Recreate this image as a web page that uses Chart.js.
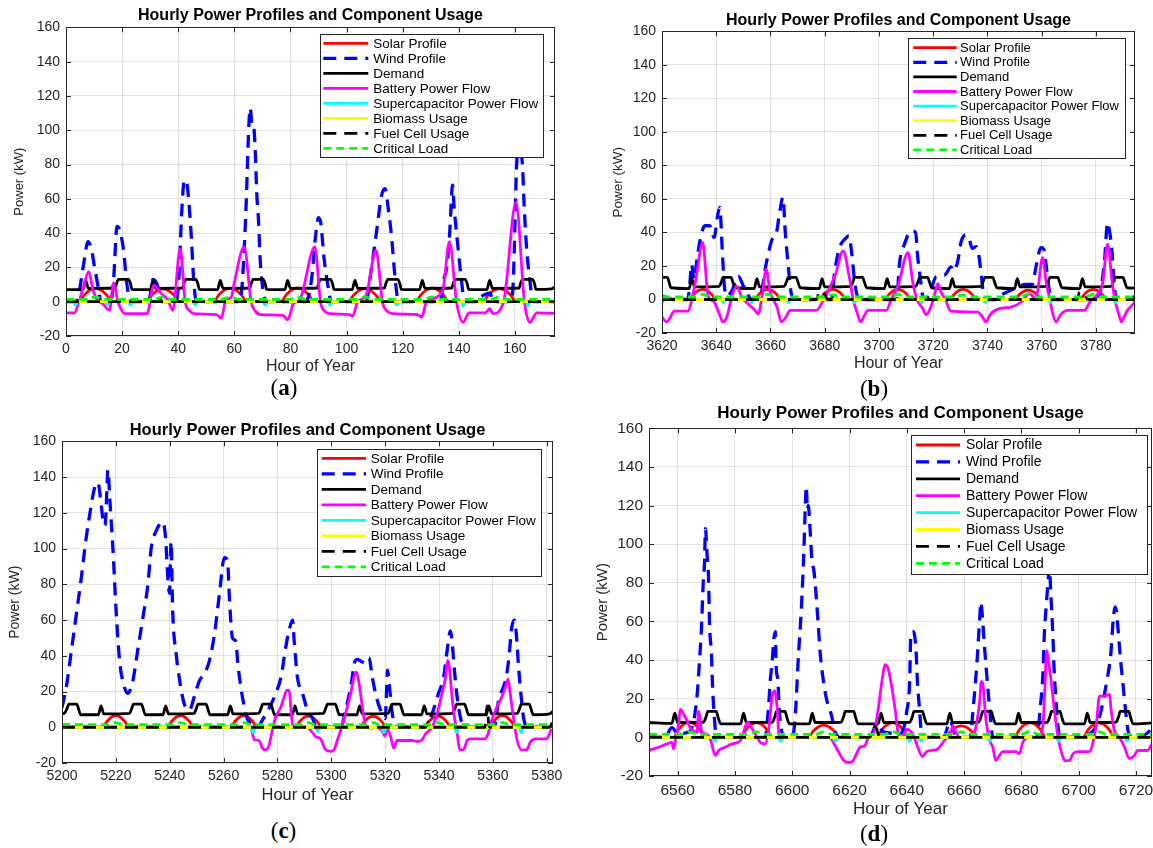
<!DOCTYPE html>
<html>
<head>
<meta charset="utf-8">
<script src="https://cdn.jsdelivr.net/npm/chart.js@4.4.1/dist/chart.umd.min.js"></script>
<style>
html, body { margin:0; padding:0; background:#fff; }
#page { position:relative; width:1153px; height:848px; overflow:hidden; font-family:'Liberation Sans', Arial, sans-serif; }
canvas { position:absolute; }
.ttl { position:absolute; transform:translate(-50%,-50%); font-weight:bold; white-space:nowrap; color:#000; line-height:1; }
.lbl { position:absolute; transform:translate(-50%,-50%); font-family:'Liberation Serif','Times New Roman',serif; font-size:23px; white-space:nowrap; line-height:1; color:#000; }
</style>
</head>
<body>
<div id="page">
<canvas id="pa"></canvas>
<canvas id="pb"></canvas>
<canvas id="pc"></canvas>
<canvas id="pd"></canvas>
</div>
<script>
// legend entries, same order in all four panels
const legendLabels = ['Solar Profile', 'Wind Profile', 'Demand', 'Battery Power Flow',
  'Supercapacitor Power Flow', 'Biomass Usage', 'Fuel Cell Usage', 'Critical Load'];

// ---------- (a) hours 0 - 174 ----------
const solarA = [[0,0],[4.5,0],[6.5,3.9],[8.5,6.8],[10.5,7.8],[12.5,6.8],[14.5,3.9],[16.5,0],
  [28.5,0],[30.5,3.8],[32.5,6.5],[34.5,7.5],[36.5,6.5],[38.5,3.8],[40.5,0],
  [52.5,0],[54.5,4],[56.5,6.9],[58.5,7.9],[60.5,6.9],[62.5,4],[64.5,0],
  [76.5,0],[78.5,4],[80.5,7],[82.5,8.1],[84.5,7],[86.5,4],[88.5,0],
  [100.5,0],[102.5,3.8],[104.5,6.6],[106.5,7.6],[108.5,6.6],[110.5,3.8],[112.5,0],
  [124.5,0],[126.5,4],[128.5,6.9],[130.5,8],[132.5,6.9],[134.5,4],[136.5,0],
  [148.5,0],[150.5,3.9],[152.5,6.7],[154.5,7.7],[156.5,6.7],[158.5,3.9],[160.5,0],[174.3,0]];
const windA = [[0,0],[3,0],[4.2,2],[6.3,22],[7.8,35],[9,31],[10.2,20],[11.3,10],[12.5,0],
  [16,0],[17,14],[18.2,44],[19.1,42],[20.6,29],[21.5,13],[23,0],
  [29.5,0],[31,13],[32.5,10],[34,0],
  [39,0],[40.1,10],[41.4,57],[42.2,71],[43.1,69],[43.7,60],[44.7,37],[45.5,13],[46.5,0],
  [61.5,0],[62.7,8],[63.9,44],[65.7,113],[66.3,103],[66.8,103],[67.4,90],[68,63],[68.6,48],[69.2,25],[70.4,5],[71.5,0],
  [85.5,0],[87.6,14],[88.8,36],[90,49],[90.8,46],[92,25],[93.5,8],[94.5,0],
  [107,0],[108.4,14],[110.7,41],[112.5,62],[113.7,66],[114.9,54],[116.1,37],[117.3,14],[118.5,0],
  [133.5,0],[134.5,12],[135.7,20],[136.8,41],[137.8,68],[138.3,56],[139.4,37],[141,12],[142,0],
  [146,0],[148,3],[151,5],[152.5,0],
  [158.5,0],[159.4,11],[160.8,84],[161.6,88],[162.7,80],[163.2,60],[164.1,33],[165.3,13],[166.5,0],[174.3,0]];
const demandA = [[0,7],[6,7],[7,12.5],[8,7.8],[17.5,8],[18,10.5],[18.7,13],[22.3,13],[23,10.5],[23.5,7.2],
  [30,7],[31,12.5],[32,7.8],[41.5,8],[42,10.5],[42.7,13],[46.3,13],[47,10.5],[47.5,7.2],
  [54,7],[55,12.5],[56,7.8],[65.5,8],[66,10.5],[66.7,13],[70.3,13],[71,10.5],[71.5,7.2],
  [78,7],[79,12.5],[80,7.8],[89.5,8],[90,10.5],[90.7,13],[94.3,13],[95,10.5],[95.5,7.2],
  [102,7],[103,12.5],[104,7.8],[113.5,8],[114,10.5],[114.7,13],[118.3,13],[119,10.5],[119.5,7.2],
  [126,7],[127,12.5],[128,7.8],[137.5,8],[138,10.5],[138.7,13],[142.3,13],[143,10.5],[143.5,7.2],
  [150,7],[151,12.5],[152,7.8],[161.5,8],[162,10.5],[162.7,13],[166.3,13],[167,10.5],[167.5,7.2],
  [173,7.5],[174.3,8.6]];
const batteryA = [[0,-6.5],[3,-6.5],[4.6,0],[6.1,8],[8.1,17.5],[9.6,7],[11.1,1],[13,-1],[15.5,-5],[17,11],[18.5,0],
  [20,-5.5],[21,-7],[28.9,-7],[31.3,9.5],[33.8,5],[36.3,1],[38.1,-5],[40.7,31],[42.5,0],[44.2,-5.5],[45.7,-7],
  [53.6,-7.5],[55.4,-9.7],[56.8,0],[59,3],[60,11],[63.5,32],[66,0],[67.5,-5.5],[69.4,-7.5],[77.3,-8],[79.1,-10.5],
  [81.1,-1],[83.3,1],[88.7,32],[90.7,0],[92.2,-5.5],[94.2,-7],[101.1,-7.5],[102.1,-8.5],[104,0],[107,4],[110.5,30],
  [112.8,0],[114.5,-5.5],[116.4,-7],[125.3,-7.5],[126.8,-9],[128.5,0],[134.2,6],[136.7,35],[139.2,0],[141.6,-12],
  [143.6,-6.5],[149.5,-6.5],[151,-4],[152.2,-7],[156,0],[160.4,58],[163.4,0],[165.4,-12],[167.8,-6.5],[174.3,-6.8]];
const supercapA = [[0,0],[2.5,0],[3.4,-2],[4.3,0],[13.8,0],[14.7,-2],[15.6,0],[22.1,0],[23,-2],[23.9,0],
  [45.2,0],[46.1,-2],[47,0],[70.1,0],[71,-2],[71.9,0],[93.2,0],[94.1,-2],[95,0],[117,0],[117.9,-2],[118.8,0],
  [140.7,0],[141.6,-2.5],[142.5,0],[163.8,0],[164.7,-2.5],[165.6,0],[174.3,0]];
const biomassA = [[0,0],[174.3,0]];
const fuelA = [[0,0],[174.3,0]];
const criticalA = [[0,1.4],[7.5,1.4],[10.5,2.8],[13.5,1.4],[31.5,1.4],[34.5,2.8],[37.5,1.4],[55.5,1.4],[58.5,2.8],[61.5,1.4],
  [79.5,1.4],[82.5,2.8],[85.5,1.4],[103.5,1.4],[106.5,2.8],[109.5,1.4],[127.5,1.4],[130.5,2.8],[133.5,1.4],
  [151.5,1.4],[154.5,2.8],[157.5,1.4],[174.3,1.4]];

// ---------- (b) hours 3620 - 3794 ----------
const solarB = [[3620,0],[3630,0],[3631.7,3],[3633.3,5.2],[3635,6],[3636.7,5.2],[3638.3,3],[3640,0],
  [3654,0],[3655.7,3],[3657.3,5.2],[3659,6],[3660.7,5.2],[3662.3,3],[3664,0],
  [3678,0],[3679.7,3],[3681.3,5.2],[3683,6],[3684.7,5.2],[3686.3,3],[3688,0],
  [3702,0],[3703.7,3],[3705.3,5.2],[3707,6],[3708.7,5.2],[3710.3,3],[3712,0],
  [3726,0],[3727.7,3],[3729.3,5.2],[3731,6],[3732.7,5.2],[3734.3,3],[3736,0],
  [3750,0],[3751.7,2.8],[3753.3,4.8],[3755,5.5],[3756.7,4.8],[3758.3,2.8],[3760,0],
  [3774,0],[3775.7,3],[3777.3,5.2],[3779,6],[3780.7,5.2],[3782.3,3],[3784,0],[3794.4,0]];
const windB = [[3620,2],[3622,1],[3624,0],[3629.5,0],[3630.3,10],[3630.9,21],[3631.8,12],[3633,25],[3634,35],
  [3635.8,44],[3637.6,44],[3639.2,37],[3640.5,50],[3641.3,55],[3642.2,30],[3643,8],[3644,2],[3646,6],[3648.1,14],
  [3650,8],[3651.3,4],[3653,0],[3656,1],[3658.5,22],[3660.4,35],[3662.2,40],[3663.4,52],[3664.6,61],[3665.5,39],
  [3666.5,21],[3667.5,5],[3668.5,0],[3682.5,0],[3683.7,17],[3685.5,31],[3687.4,36],[3688.9,38],[3690,27],[3691,11],
  [3692,2],[3693,0],[3706.5,0],[3707.6,22],[3709.4,33],[3711.9,41],[3713.5,40],[3714.3,25],[3715.3,12],[3716,3],
  [3717,0],[3719,5],[3721,13.5],[3724.2,14.5],[3726.6,19.5],[3727.5,17],[3729,22.5],[3730.3,34.5],[3731.9,38.5],
  [3733.2,36.5],[3734.4,30.5],[3735.8,31.5],[3736.8,26.5],[3737.7,15],[3738.6,3],[3740,0],[3743,0],[3744.4,2],
  [3748,5],[3751.8,8],[3754,9],[3756.5,9],[3757.9,19.5],[3759.7,31],[3760.8,30],[3761.6,21],[3762.6,7.5],[3763.5,1],
  [3765,0],[3780,0],[3781.2,2],[3783.1,21.7],[3784.3,45.8],[3785,41],[3786,27],[3786.8,7.5],[3788,0],[3794.4,1.5]];
const demandB = [[3620,13.2],[3622,13.2],[3622.5,11],[3623.3,7],[3630,6.5],[3631,12.5],[3632,7.5],
  [3641,7.8],[3642,11],[3642.5,13.2],[3645.5,13.2],[3646,11],[3647,7],[3654,6.5],[3655,12.5],[3656,7.5],
  [3665,7.8],[3666,11],[3666.5,13.2],[3669.5,13.2],[3670,11],[3671,7],[3678,6.5],[3679,12.5],[3680,7.5],
  [3689.5,7.8],[3690.5,11],[3691,13.2],[3694,13.2],[3694.5,11],[3695.5,7],[3702,6.5],[3703,12.5],[3704,7.5],
  [3713.5,7.8],[3714.5,11],[3715,13.2],[3718,13.2],[3718.5,11],[3719.5,7],[3726,6.5],[3727,12.5],[3728,7.5],
  [3737.5,7.8],[3738.5,11],[3739,13.2],[3742,13.2],[3742.5,11],[3743.5,7],[3750,6.5],[3751,12.5],[3752,7.5],
  [3761.5,7.8],[3762.5,11],[3763,13.2],[3766,13.2],[3766.5,11],[3767.5,7],[3774,6.5],[3775,12.5],[3776,7.5],
  [3785.5,7.8],[3786.5,11],[3787,13.2],[3790,13.2],[3790.5,11],[3791.5,7],[3794.4,6.8]];
const batteryB = [[3620,-10.5],[3621.7,-13.4],[3623,-11],[3624.5,-7],[3629.7,-7],[3631,0],[3632.5,12],[3635,34],
  [3637,2],[3639,-1],[3641,-8],[3642.5,-13.4],[3644,-10],[3645.5,0],[3647.5,8],[3649.5,1],[3652,-3],[3654,-6],
  [3655.5,-8.5],[3657,3],[3658.4,18],[3659.8,5],[3661,0],[3662.5,-5],[3664,-13.4],[3665.5,-11],[3667.3,-6.5],
  [3677,-6.5],[3679,-2],[3681,4],[3684,15],[3686.8,29],[3689,14],[3690.5,0],[3692,-8],[3693.2,-13.4],[3694.5,-10],
  [3696,-6.5],[3702.7,-6.5],[3704.5,0],[3707,8],[3710.7,28],[3712.5,10],[3714,0],[3716,-5],[3717.4,-9],[3719,-5],
  [3720.5,3],[3721.7,9.5],[3723,4],[3724.5,0],[3726.5,-7],[3736.5,-7.5],[3738,-10],[3739.5,-13.4],[3741,-9],
  [3744.4,-5.5],[3748.8,-4.5],[3752.5,-1.5],[3755.5,3.5],[3757.5,1],[3758.5,5],[3760.3,25],[3761.7,10],[3763,0],
  [3764,-8],[3765.3,-13.4],[3767,-9],[3769.6,-6.5],[3775.7,-6.5],[3778,-1],[3781,4],[3782.5,10],[3784.3,33],
  [3786,10],[3787,0],[3788.3,-8],[3789.4,-13.4],[3790.5,-10],[3791.6,-6.5],[3793,-4],[3794.4,-1.5]];
const supercapB = [[3620,-2],[3621,0],[3641.7,0],[3642.6,-2],[3643.5,0],[3652.1,0],[3653,-2],[3653.9,0],
  [3665.7,0],[3666.6,-2],[3667.5,0],[3690.1,0],[3691,-2],[3691.9,0],[3714.9,0],[3715.8,-2],[3716.7,0],
  [3738.3,0],[3739.2,-2],[3740.1,0],[3762.3,0],[3763.2,-2],[3764.1,0],[3786.3,0],[3787.2,-2],[3788.1,0],[3794.4,0]];
const biomassB = [[3620,0],[3794.4,0]];
const fuelB = [[3620,0],[3677,0],[3678,5],[3680,3],[3681,0],[3773,0],[3774,4.5],[3776,2.5],[3777,0],[3794.4,0]];
const criticalB = [[3620,1.5],[3632,1.5],[3635,3],[3638,1.5],[3656,1.5],[3659,3],[3662,1.5],[3680,1.5],[3683,2.8],
  [3686,1.5],[3704,1.5],[3707,3],[3710,1.5],[3728,1.5],[3731,2.8],[3734,1.5],[3752,1.5],[3755,3.2],[3758,1.5],
  [3776,1.5],[3779,3],[3782,1.5],[3794.4,1.5]];

// ---------- (c) hours 5200 - 5382 ----------
const solarC = [[5200,0],[5215,0],[5216.7,3.2],[5218.3,5.6],[5220,6.5],[5221.7,5.6],[5223.3,3.2],[5225,0],
  [5239,0],[5240.7,3.2],[5242.3,5.6],[5244,6.5],[5245.7,5.6],[5247.3,3.2],[5249,0],
  [5262.5,0],[5264.2,3.2],[5265.8,5.6],[5267.5,6.5],[5269.2,5.6],[5270.8,3.2],[5272.5,0],
  [5286.5,0],[5288.2,3.1],[5289.8,5.4],[5291.5,6.3],[5293.2,5.4],[5294.8,3.1],[5296.5,0],
  [5310.5,0],[5312.2,3],[5313.8,5.3],[5315.5,6.1],[5317.2,5.3],[5318.8,3],[5320.5,0],
  [5334.5,0],[5336.2,3.1],[5337.8,5.4],[5339.5,6.3],[5341.2,5.4],[5342.8,3.1],[5344.5,0],
  [5358.5,0],[5360.2,3.2],[5361.8,5.6],[5363.5,6.5],[5365.2,5.6],[5366.8,3.2],[5368.5,0],[5382.3,0]];
const windC = [[5200,11],[5201.6,22.5],[5203.5,43],[5205.3,63],[5207.2,84],[5208.8,104],[5210.5,121],[5212.1,134],
  [5213.3,137],[5214.6,124],[5215.4,114],[5216,113],[5216.7,134],[5217,144],[5217.9,124],[5218.9,100],[5220.1,65],
  [5221.4,37],[5222.9,24],[5224.4,19],[5226.3,26],[5228.1,43],[5230,61],[5231.9,80],[5233.1,100],[5235,110],
  [5237.4,115],[5238.4,107],[5239.3,84],[5239.9,75],[5240.5,104],[5241.1,65],[5242.4,41],[5243.6,27],[5245.4,13],
  [5247.3,9.6],[5249.1,17],[5251,26],[5252.9,30],[5254.7,37],[5256.6,52],[5258.4,74],[5260.3,95],[5261.5,93],
  [5262.1,74],[5263.3,50],[5264.6,48],[5265.2,37],[5266.4,22.5],[5267.7,11.4],[5269,4],[5270.7,2],[5272.5,0],
  [5274.4,4],[5277,11],[5279.4,19],[5281.3,28],[5283.1,45],[5284.3,54],[5285.6,60],[5286.2,48.5],[5287.4,28],
  [5289.3,19],[5291.1,9.6],[5293,5],[5294.5,0],[5303.5,0],[5305.3,9.6],[5307.2,22.5],[5308.8,37],[5309.6,38],
  [5311,37],[5312.5,36],[5314,39],[5315.2,28],[5316.7,17],[5318.3,9.6],[5320,5],[5320.9,32],[5321.6,22.5],
  [5322.7,7],[5324.2,0.5],[5335,0],[5337.4,7.5],[5339.8,19],[5341.7,28],[5343,43],[5344.2,54],[5344.7,50],
  [5345.7,32],[5346.7,17],[5348,5],[5349.5,0],[5360.5,0],[5362.1,15],[5364.6,26],[5365.8,37],[5367,56],[5368,60],
  [5368.9,48],[5369.5,34],[5370.5,17],[5371.4,5],[5373,0],[5382.3,0]];
const demandC = [[5200,7.5],[5201,8],[5202,11],[5202.5,13],[5205.5,13],[5206,11],[5207,7],[5213.5,7],[5214.5,12],[5215.5,7.5],
  [5225,7.8],[5226,11],[5226.5,13],[5229.5,13],[5230,11],[5231,7],[5237.5,7],[5238.5,12],[5239.5,7.5],
  [5249,7.8],[5250,11],[5250.5,13],[5253.5,13],[5254,11],[5255,7],[5261.5,7],[5262.5,12],[5263.5,7.5],
  [5273,7.8],[5274,11],[5274.5,13],[5277.5,13],[5278,11],[5279,7],[5285.5,7],[5286.5,12],[5287.5,7.5],
  [5297,7.8],[5298,11],[5298.5,13],[5301.5,13],[5302,11],[5303,7],[5309.5,7],[5310.5,12],[5311.5,7.5],
  [5321,7.8],[5322,11],[5322.5,13],[5325.5,13],[5326,11],[5327,7],[5333.5,7],[5334.5,12],[5335.5,7.5],
  [5345,7.8],[5346,11],[5346.5,13],[5349.5,13],[5350,11],[5351,7],[5357.5,7],[5358.5,12],[5359.5,7.5],
  [5369,7.8],[5370,11],[5370.5,13],[5373.5,13],[5374,11],[5375,7],[5381,7.5],[5382.3,9]];
const batteryC = [[5200,0],[5270,0],[5271.4,-7],[5273.2,-7.4],[5274.4,-11.7],[5275.7,-12.6],[5276.9,-10],[5278.1,-1.5],
  [5279.4,5.9],[5281.3,11.4],[5282.5,17],[5283.5,20.7],[5284.3,20.7],[5285.2,6.5],[5285.8,0],[5291,0],[5293,-3],
  [5294.2,-5.2],[5296,-6.5],[5297.9,-12.6],[5299.8,-13.5],[5301,-12.6],[5302.2,-7.4],[5303.5,-1.5],[5305.3,7.8],
  [5307.2,19],[5308.4,28],[5309.3,31],[5310.3,24.6],[5311.5,11.4],[5312.7,1.5],[5314.6,-0.4],[5317,0],[5318.9,-2.2],
  [5319.9,-5],[5320.8,-1],[5322,-5],[5323.2,-11.7],[5324.4,-7.4],[5330,-7.4],[5331.9,-8],[5333.5,-7.4],[5335,-3.7],
  [5337.4,0],[5339.3,7.8],[5341.1,19],[5342.4,28],[5343.2,37.4],[5343.8,34],[5344.8,17],[5345.8,4.6],[5346.7,-3.3],
  [5347.7,-12.6],[5349.1,-12.6],[5350.4,-7.4],[5351.7,-6.5],[5357.2,-6.5],[5358.4,-2.8],[5359.6,4],[5361.5,11.4],
  [5363.3,17],[5364.6,22.5],[5365.6,27],[5366.4,19],[5367.7,4.6],[5369,-7.4],[5370.7,-12.6],[5372.5,-12.6],
  [5373.9,-8.3],[5375.8,-6.5],[5380,-6.5],[5381.6,-1.5],[5382.3,0]];
const supercapC = [[5200,0],[5270,0],[5271,-3],[5272,0],[5294,0],[5295,-2.5],[5296,0],[5318.5,0],[5319.5,-3],[5320.5,0],
  [5345.5,0],[5346.5,-3],[5347.5,0],[5369.5,0],[5370.5,-3],[5371.5,0],[5382.3,0]];
const biomassC = [[5200,0],[5382.3,0]];
const fuelC = [[5200,0],[5335,0],[5336,3],[5337,0],[5357,0],[5357.8,12],[5358.5,1],[5359,0],[5381,0],[5382.3,4]];
const criticalC = [[5200,1.6],[5217,1.4],[5220,2.6],[5223,1.4],[5241,1.4],[5244,2.6],[5247,1.4],[5264.5,1.4],[5267.5,2.6],
  [5270.5,1.4],[5288.5,1.4],[5291.5,2.6],[5294.5,1.4],[5312.5,1.4],[5315.5,2.6],[5318.5,1.4],[5336.5,1.4],[5339.5,2.6],
  [5342.5,1.4],[5360.5,1.4],[5363.5,2.6],[5366.5,1.4],[5382.3,1.5]];

// ---------- (d) hours 6550 - 6725 ----------
const solarD = [[6550,0],[6558.5,0],[6560.3,4],[6562.2,7],[6564,8],[6565.8,7],[6567.7,4],[6569.5,0],
  [6582,0],[6583.8,3.9],[6585.7,6.7],[6587.5,7.7],[6589.3,6.7],[6591.2,3.9],[6593,0],
  [6605.5,0],[6607.3,3.2],[6609.2,5.5],[6611,6.3],[6612.8,5.5],[6614.7,3.2],[6616.5,0],
  [6629.5,0],[6631.3,3.9],[6633.2,6.7],[6635,7.7],[6636.8,6.7],[6638.7,3.9],[6640.5,0],
  [6653.5,0],[6655.3,3],[6657.2,5.2],[6659,6],[6660.8,5.2],[6662.7,3],[6664.5,0],
  [6677.5,0],[6679.3,3.9],[6681.2,6.7],[6683,7.7],[6684.8,6.7],[6686.7,3.9],[6688.5,0],
  [6701.5,0],[6703.3,3.9],[6705.2,6.7],[6707,7.7],[6708.8,6.7],[6710.7,3.9],[6712.5,0],[6725.6,0]];
const windD = [[6550,2],[6553,0],[6556,1],[6558,5],[6560,2],[6563.8,2.7],[6565.6,8.5],[6566.8,22],[6567.6,39],
  [6568.3,56],[6568.9,79],[6569.4,91],[6569.7,108],[6570.3,94],[6570.8,82],[6571.1,60],[6571.8,43],[6572.2,26],
  [6572.9,8.5],[6573.6,0],[6590.5,0],[6591.8,17],[6592.3,29],[6593,39],[6593.5,49.6],[6594.1,54.7],[6594.4,37],
  [6595,29],[6595.5,14],[6596.2,4.3],[6597,0],[6600,0],[6601,10],[6602.2,43],[6603.2,67],[6604,94],[6604.6,121],
  [6604.9,130],[6605.3,118],[6605.6,120],[6606.3,106],[6606.9,91],[6607.5,87],[6608,80],[6609,60],[6609.8,43],
  [6610.9,29],[6612.1,19],[6613.6,12],[6615,3],[6616,0],[6627,0],[6628.5,4],[6630,8],[6631.5,3],[6638,2],
  [6640,13.7],[6641,29],[6641.4,53],[6642.1,54.7],[6642.7,53],[6643.3,43],[6643.7,29],[6644.4,15.4],[6645.2,1.3],
  [6646,0],[6652.8,0],[6655.2,8.5],[6656.5,3],[6657.5,0],[6662,0],[6663.3,17],[6664.5,39],[6665.4,60],[6665.9,70],
  [6666.3,64],[6667,49.6],[6667.7,36],[6668.5,22],[6669.3,9],[6670,0],[6685.5,0],[6686.6,15.4],[6687.5,32.5],
  [6688,53],[6688.6,66.7],[6689.4,82],[6689.8,88],[6690.3,73.5],[6691,53],[6691.4,36],[6692.1,18.8],[6692.9,4],
  [6694,0],[6704,2],[6707.5,12],[6709.8,29],[6711.2,43],[6712.1,61.5],[6712.7,67.5],[6713.3,64],[6713.9,53],
  [6714.7,39],[6715.6,25.6],[6716.5,12],[6717.3,3],[6719,0],[6723.8,2],[6725.6,5]];
const demandD = [[6550,7.7],[6558,7.2],[6559,12.5],[6560,7.7],[6569,7.8],[6570,11],[6570.5,13.5],[6573.5,13.5],[6574,11],[6575,7],
  [6582,7],[6583,12.5],[6584,7.7],[6593,7.8],[6594,11],[6594.5,13.5],[6597.5,13.5],[6598,11],[6599,7],
  [6606,7],[6607,12.5],[6608,7.7],[6617,7.8],[6618,11],[6618.5,13.5],[6621.5,13.5],[6622,11],[6623,7],
  [6630,7],[6631,12.5],[6632,7.7],[6641,7.8],[6642,11],[6642.5,13.5],[6645.5,13.5],[6646,11],[6647,7],
  [6654,7],[6655,12.5],[6656,7.7],[6665,7.8],[6666,11],[6666.5,13.5],[6669.5,13.5],[6670,11],[6671,7],
  [6678,7],[6679,12.5],[6680,7.7],[6689,7.8],[6690,11],[6690.5,13.5],[6693.5,13.5],[6694,11],[6695,7],
  [6702,7],[6703,12.5],[6704,7.7],[6713,7.8],[6714,11],[6714.5,13.5],[6717.5,13.5],[6718,11],[6719,7],[6725.6,7.5]];
const batteryD = [[6550,-6.8],[6553.3,-5.1],[6556.3,-3.4],[6558,-2.6],[6558.6,-6],[6559.4,0],[6560.4,7.7],[6560.9,14.5],
  [6562.1,12],[6563.3,8.5],[6564.4,5],[6565.6,3.4],[6566.8,2.6],[6567.3,13.5],[6568.5,2.6],[6570.2,1.7],[6571.4,-0.9],
  [6573.2,-9.4],[6574.3,-6.8],[6576.6,-5.1],[6579,-3.4],[6581.9,-1.7],[6583,2.6],[6584.5,8],[6585.4,6],[6587.1,1.7],
  [6588.9,-2.6],[6590.6,-3.4],[6591.8,4.3],[6593,21.4],[6593.9,24],[6594.7,16],[6595.3,2.6],[6596.4,0],[6613,0],
  [6614.5,-3],[6616,-7],[6618,-12],[6619.5,-13],[6621,-12.5],[6622.3,-9],[6623.7,-5.1],[6625.4,-4.3],[6626.6,0],
  [6628.4,2],[6630.1,15.4],[6631.3,29],[6632.5,37.6],[6633.6,35],[6634.8,25.6],[6636,13.7],[6637.1,1.3],[6638.3,0],
  [6640,4.3],[6641.5,3],[6642.6,0],[6643.8,-5],[6645.5,-10],[6646.7,-7.7],[6648.4,-6.8],[6650.8,-6],[6653.1,-1.7],
  [6654.3,0],[6655.4,1.7],[6656,6],[6657,3],[6658.5,0],[6663,0],[6664.2,6],[6665.4,18],[6666,29],[6666.5,28],
  [6667.6,9.4],[6668.8,-1],[6670,-5],[6671.1,-12],[6672.3,-9.4],[6673.5,-7.4],[6678.1,-7.4],[6679.3,-8.5],
  [6680.5,-2.6],[6682.8,0],[6685.7,0],[6687.5,6],[6688.2,25],[6688.8,45],[6689.4,40],[6690.3,30],[6691,21],
  [6692.8,0],[6694,-7.7],[6695.1,-12],[6696.8,-12],[6698,-8.5],[6699.7,-7.4],[6703.8,-7.4],[6705,-2.6],[6706.1,6],
  [6707.3,21.4],[6709,21.4],[6710.8,22.2],[6711.3,14.5],[6712.5,3.4],[6714.2,0],[6716,-5],[6717.7,-11],[6719.5,-9.4],
  [6720.6,-6.8],[6724,-6.8],[6725.6,-3.4]];
const supercapD = [[6550,0],[6572,0],[6573,-2],[6574,0],[6595,0],[6596,-2],[6597,0],[6614,0],[6615,-2],[6616,0],
  [6640,0],[6641,-2],[6642,0],[6644,0],[6645,-2],[6646,0],[6668,0],[6669,-2],[6670,0],[6692,0],[6693,-2],[6694,0],
  [6716,0],[6717,-2],[6718,0],[6725.6,0]];
const biomassD = [[6550,0],[6725.6,0]];
const fuelD = [[6550,0],[6627,0],[6629,6],[6630.5,0],[6725.6,0]];
const criticalD = [[6550,1.5],[6561,1.5],[6564,3],[6567,1.5],[6584.5,1.5],[6587.5,3],[6590.5,1.5],[6608,1.5],[6611,2.8],
  [6614,1.5],[6632,1.5],[6635,3],[6638,1.5],[6656,1.5],[6659,2.8],[6662,1.5],[6680,1.5],[6683,3.2],[6686,1.5],
  [6704,1.5],[6707,3],[6710,1.5],[6725.6,1.5]];

// line styles, MATLAB-like
const styles = [
  {color:'#ff0000', width:2.8, dash:[]},
  {color:'#0000ff', width:3.3, dash:[13,8]},
  {color:'#000000', width:2.8, dash:[]},
  {color:'#ff00ff', width:2.8, dash:[]},
  {color:'#00ffff', width:2.8, dash:[]},
  {color:'#ffff00', width:2.8, dash:[]},
  {color:'#000000', width:2.8, dash:[13,8]},
  {color:'#00ff00', width:2.8, dash:[8,5]},
];

const FONT = "'Liberation Sans', Arial, sans-serif";
const INK = '#262626';

// plot boxes and text placement (page pixels)
const panels = [
  {id:'pa', tag:'a', L:66, T:25, R:555, B:336, yw:58, xh:44, xmin:0, xmax:174.3, tickFs:14, yFs:13, xFs:16,
   title:{x:310.5, y:15, fs:16}, label:{x:284, y:387},
   legend:{x:320, y:34.3, w:223.3, h:123, row0:9, gap:15, lx:3.3, llen:45, tx:53.3, fs:13.5},
   series:[solarA, windA, demandA, batteryA, supercapA, biomassA, fuelA, criticalA]},
  {id:'pb', tag:'b', L:662, T:29, R:1135, B:333, yw:56, xh:44, xmin:3620, xmax:3794.4, tickFs:14, yFs:13.5, xFs:16,
   title:{x:898.5, y:20, fs:16}, label:{x:874, y:388},
   legend:{x:908.3, y:38.3, w:216.7, h:120, row0:9.4, gap:14.6, lx:5, llen:43.4, tx:51.7, fs:13},
   series:[solarB, windB, demandB, batteryB, supercapB, biomassB, fuelB, criticalB]},
  {id:'pc', tag:'c', L:62, T:439, R:553, B:763, yw:59, xh:46, xmin:5200, xmax:5382.3, tickFs:14, yFs:14, xFs:16.5,
   title:{x:307.5, y:429.3, fs:16.5}, label:{x:283.5, y:830},
   legend:{x:316.7, y:449, w:224.3, h:127, row0:9.3, gap:15.5, lx:5, llen:44.3, tx:54, fs:13.5},
   series:[solarC, windC, demandC, batteryC, supercapC, biomassC, fuelC, criticalC]},
  {id:'pd', tag:'d', L:649, T:425, R:1152, B:776, yw:59, xh:48, xmin:6550, xmax:6725.6, tickFs:15.5, yFs:15, xFs:17,
   title:{x:900.5, y:412, fs:17}, label:{x:874, y:833},
   legend:{x:911, y:435, w:236.3, h:139, row0:10, gap:16.9, lx:5, llen:44, tx:55, fs:14},
   series:[solarD, windD, demandD, batteryD, supercapD, biomassD, fuelD, criticalD]},
];

const PAD_TOP = 12, PAD_RIGHT = 20;

// box frame, inward ticks and the legend drawn inside the axes
const matlabBox = {
  id: 'matlabBox',
  afterDatasetsDraw(chart, args, o) {
    const ctx = chart.ctx, a = chart.chartArea;
    const xs = chart.scales.x, ys = chart.scales.y;
    ctx.save();
    ctx.setLineDash([]);
    ctx.strokeStyle = INK;
    ctx.lineWidth = 1;
    ctx.beginPath();
    xs.ticks.forEach(t => {
      const px = Math.round(xs.getPixelForValue(t.value)) + 0.5;
      ctx.moveTo(px, a.bottom); ctx.lineTo(px, a.bottom - 5);
      ctx.moveTo(px, a.top); ctx.lineTo(px, a.top + 5);
    });
    ys.ticks.forEach(t => {
      const py = Math.round(ys.getPixelForValue(t.value)) + 0.5;
      ctx.moveTo(a.left, py); ctx.lineTo(a.left + 5, py);
      ctx.moveTo(a.right, py); ctx.lineTo(a.right - 5, py);
    });
    ctx.stroke();
    ctx.strokeRect(Math.round(a.left) + 0.5, Math.round(a.top) + 0.5,
                   Math.round(a.right - a.left) - 1, Math.round(a.bottom - a.top) - 1);

    // legend
    const lg = o.box;
    ctx.fillStyle = '#fff';
    ctx.fillRect(lg.x, lg.y, lg.w, lg.h);
    ctx.strokeStyle = INK;
    ctx.strokeRect(Math.round(lg.x) + 0.5, Math.round(lg.y) + 0.5, Math.round(lg.w), Math.round(lg.h));
    ctx.font = lg.fs + 'px ' + FONT;
    ctx.textBaseline = 'middle';
    ctx.textAlign = 'left';
    legendLabels.forEach((txt, i) => {
      const cy = lg.y + lg.row0 + i * lg.gap;
      const st = styles[i];
      ctx.strokeStyle = st.color;
      ctx.lineWidth = st.width;
      ctx.setLineDash(st.dash);
      ctx.beginPath();
      ctx.moveTo(lg.x + lg.lx, cy);
      ctx.lineTo(lg.x + lg.lx + lg.llen, cy);
      ctx.stroke();
      ctx.fillStyle = '#000';
      ctx.fillText(txt, lg.x + lg.tx, cy + 0.5);
    });
    ctx.restore();
  }
};

const page = document.getElementById('page');

panels.forEach(p => {
  const cv = document.getElementById(p.id);
  const left = p.L - p.yw, top = p.T - PAD_TOP;
  cv.width = (p.R - p.L) + p.yw + PAD_RIGHT;
  cv.height = (p.B - p.T) + PAD_TOP + p.xh;
  cv.style.left = left + 'px';
  cv.style.top = top + 'px';

  const datasets = p.series.map((d, i) => ({
    label: legendLabels[i],
    data: d.map(q => ({x: q[0], y: q[1]})),
    borderColor: styles[i].color,
    borderWidth: styles[i].width,
    borderDash: styles[i].dash,
    borderJoinStyle: 'round',
    pointRadius: 0,
    fill: false,
    cubicInterpolationMode: 'monotone',
    order: 8 - i
  }));

  new Chart(cv, {
    type: 'line',
    data: { datasets },
    plugins: [matlabBox],
    options: {
      responsive: false,
      animation: false,
      events: [],
      devicePixelRatio: 1,
      layout: { padding: { left: 0, top: PAD_TOP, right: PAD_RIGHT, bottom: 0 } },
      plugins: {
        legend: { display: false },
        tooltip: { enabled: false },
        matlabBox: {
          box: { x: p.legend.x - left, y: p.legend.y - top, w: p.legend.w, h: p.legend.h,
                 row0: p.legend.row0, gap: p.legend.gap, lx: p.legend.lx, llen: p.legend.llen,
                 tx: p.legend.tx, fs: p.legend.fs }
        }
      },
      scales: {
        x: {
          type: 'linear', min: p.xmin, max: p.xmax,
          border: { display: false },
          grid: { color: 'rgba(0,0,0,0.11)', drawTicks: false },
          ticks: { stepSize: 20, includeBounds: false, autoSkip: false, maxRotation: 0, padding: 5,
                   color: INK, font: { size: p.tickFs, family: FONT }, callback: v => String(v) },
          title: { display: true, text: 'Hour of Year', color: INK,
                   font: { size: p.xFs, family: FONT }, padding: { top: 4, bottom: 4 } },
          afterFit(s) { s.height = p.xh; }
        },
        y: {
          type: 'linear', min: -20, max: 160,
          border: { display: false },
          grid: { color: 'rgba(0,0,0,0.11)', drawTicks: false },
          ticks: { stepSize: 20, autoSkip: false, padding: 6,
                   color: INK, font: { size: p.tickFs, family: FONT }, callback: v => String(v) },
          title: { display: true, text: 'Power (kW)', color: INK,
                   font: { size: p.yFs, family: FONT }, padding: { top: 4, bottom: 4 } },
          afterFit(s) { s.width = p.yw; }
        }
      }
    }
  });

  const t = document.createElement('div');
  t.className = 'ttl';
  t.style.left = p.title.x + 'px';
  t.style.top = p.title.y + 'px';
  t.style.fontSize = p.title.fs + 'px';
  t.textContent = 'Hourly Power Profiles and Component Usage';
  page.appendChild(t);

  const lb = document.createElement('div');
  lb.className = 'lbl';
  lb.style.left = p.label.x + 'px';
  lb.style.top = p.label.y + 'px';
  lb.innerHTML = '(<b>' + p.tag + '</b>)';
  page.appendChild(lb);
});
</script>
</body>
</html>
